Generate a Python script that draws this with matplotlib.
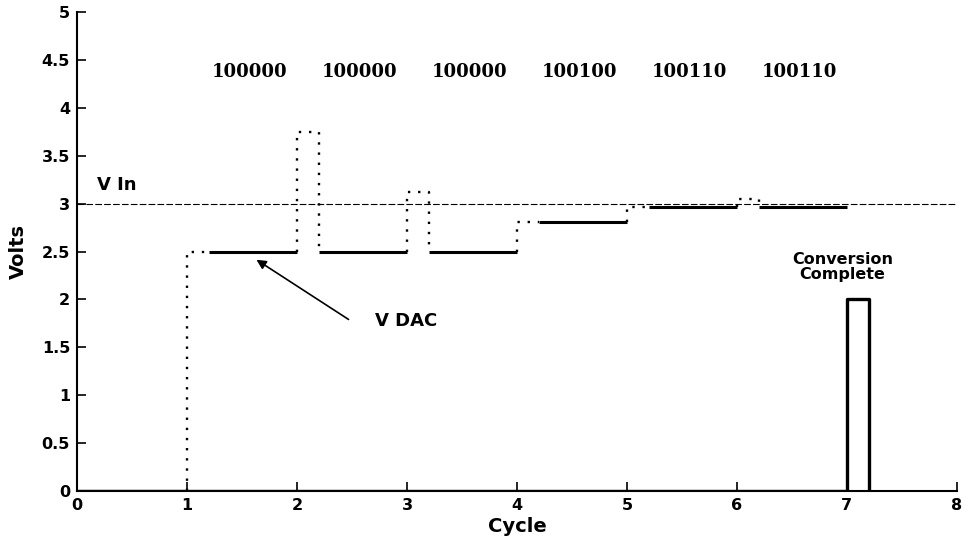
import matplotlib
matplotlib.use("Agg")
import matplotlib.pyplot as plt

# SAR ADC conversion, 6 bits, 5 V reference
cycles = [1, 2, 3, 4, 5, 6]
trial_v = [2.5, 3.75, 3.125, 2.8125, 2.96875, 3.046875]   # DAC value tried in each cycle
kept_v = [2.5, 2.5, 2.5, 2.8125, 2.96875, 2.96875]        # DAC value after comparison
codes = ["100000", "100000", "100000", "100100", "100110", "100110"]
v_in = 3.0
done_x = [0, 7, 7, 7.2, 7.2]
done_y = [0, 0, 2, 2, 0]
settle = 0.2

fig = plt.figure(figsize=(9.69, 5.4), dpi=100)
ax = fig.add_axes([0.0795, 0.0907, 0.908, 0.8871])

sans = "DejaVu Sans"

# V In reference
ax.plot([0, 8], [v_in, v_in], color="k", lw=0.8, linestyle=(0, (6, 2)))

# V DAC: dotted transitions, solid settled levels
ax.plot([0, 1], [0, 0], color="k", lw=2.2, solid_capstyle="butt")
prev = 0.0
for c, t, k in zip(cycles, trial_v, kept_v):
    ax.plot([c, c, c + settle, c + settle], [prev, t, t, k],
            color="k", lw=1.7, linestyle=(0, (1, 3.3)))
    ax.plot([c + settle, c + 1], [k, k], color="k", lw=2.2, solid_capstyle="butt")
    prev = k

# conversion complete pulse
ax.plot(done_x, done_y, color="k", lw=2.4)

ax.set_xlim(0, 8)
ax.set_ylim(0, 5)
ax.set_xticks(range(0, 9))
ax.set_yticks([i * 0.5 for i in range(11)])
ax.set_yticklabels(["0", "0.5", "1", "1.5", "2", "2.5", "3", "3.5", "4", "4.5", "5"])
ax.tick_params(direction="in", length=6.5, width=1.2, labelsize=11.5, pad=5)
for lab in ax.get_xticklabels() + ax.get_yticklabels():
    lab.set_fontweight("bold")
    lab.set_family(sans)
ax.spines["top"].set_visible(False)
ax.spines["right"].set_visible(False)
ax.spines["left"].set_linewidth(1.5)
ax.spines["bottom"].set_linewidth(1.5)

ax.set_xlabel("Cycle", fontsize=14, fontweight="bold", family=sans, labelpad=3)
ax.set_ylabel("Volts", fontsize=14, fontweight="bold", family=sans, labelpad=10)

for c, s in zip(cycles, codes):
    ax.text(c + 0.57, 4.37, s, ha="center", va="center", fontsize=13,
            fontweight="bold", family="DejaVu Serif")

ax.text(0.18, 3.19, "V In", ha="left", va="center", fontsize=13,
        fontweight="bold", family=sans)
ax.annotate("", xy=(1.61, 2.43), xytext=(2.49, 1.775),
            arrowprops=dict(arrowstyle="-|>", color="k", lw=1.2, mutation_scale=14))
ax.text(2.99, 1.77, "V DAC", ha="center", va="center", fontsize=13,
        fontweight="bold", family=sans)
ax.text(6.96, 2.34, "Conversion\nComplete", ha="center", va="center", fontsize=11.5,
        fontweight="bold", family=sans, linespacing=1.0)

fig.savefig("out.png", dpi=100)
